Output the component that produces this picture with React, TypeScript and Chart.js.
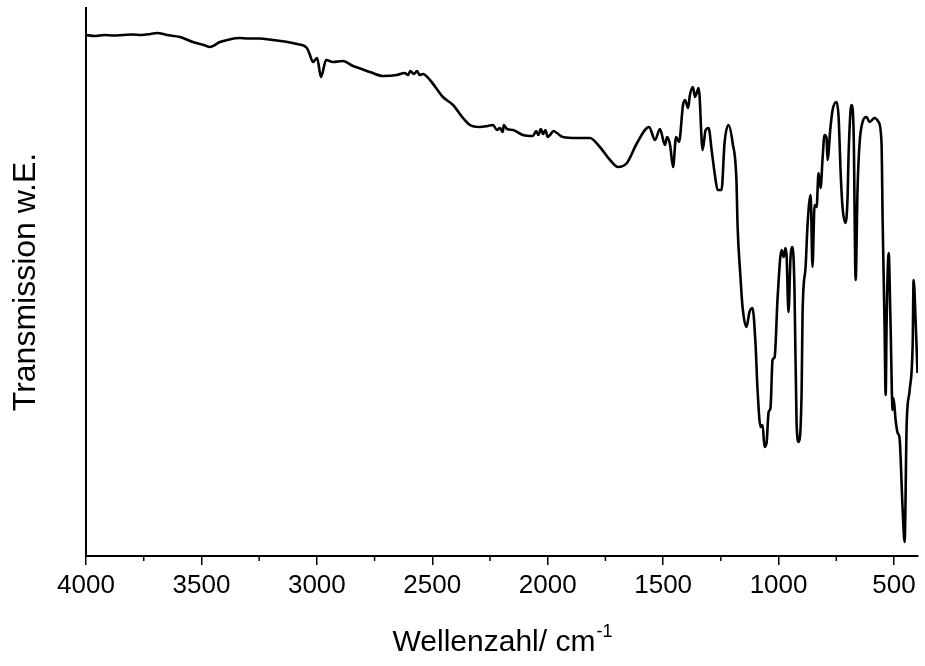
import { useEffect, useRef } from 'react';
import { Chart, registerables } from 'chart.js';

Chart.register(...registerables);

// Wavenumbers (cm^-1), descending
const wavenumbers = [
  4000, 3960, 3920, 3880, 3840, 3800, 3760, 3720, 3692, 3650, 3593, 3537, 3490, 3463, 3450, 3420, 3380, 3333, 3300, 3250,
  3190, 3140, 3086, 3043, 3030, 3017, 2999, 2982, 2960, 2930, 2887, 2843, 2800, 2770, 2713, 2653, 2620, 2605, 2595, 2580,
  2566, 2555, 2540, 2510, 2454, 2410, 2367, 2337, 2293, 2260, 2237, 2220, 2207, 2195, 2190, 2176, 2150, 2107, 2064, 2050,
  2040, 2030, 2020, 2010, 2000, 1990, 1975, 1960, 1934, 1873, 1817, 1774, 1730, 1696, 1657, 1613, 1561, 1535, 1514, 1492,
  1483, 1470, 1457, 1444, 1431, 1414, 1405, 1392, 1384, 1371, 1362, 1346, 1329, 1316, 1303, 1290, 1277, 1264, 1247, 1234,
  1217, 1199, 1182, 1178, 1165, 1156, 1139, 1126, 1113, 1100, 1091, 1078, 1069, 1061, 1052, 1043, 1035, 1026, 1017, 1004,
  987, 978, 970, 965, 957, 948, 939, 931, 922, 913, 900, 896, 883, 874, 861, 853, 844, 835, 827, 818,
  809, 801, 792, 788, 775, 766, 749, 740, 731, 723, 710, 701, 697, 688, 684, 675, 666, 658, 649, 636,
  619, 606, 584, 567, 554, 549, 541, 536, 532, 523, 515, 506, 502, 493, 484, 476, 463, 454, 445, 432,
  419, 415, 406, 398,
];

// Transmission (arbitrary units)
const transmission = [
  521, 520, 521, 520.5, 521, 521.5, 521, 522, 523, 521, 519, 514, 511, 509, 510, 514, 516.5, 518, 517.5, 517.5,
  516, 514.5, 512, 508, 501, 494, 498, 479, 496, 494, 495, 490, 486.5, 484, 480, 481, 483, 481, 485, 482,
  485, 481, 482, 476, 459, 451, 438, 431, 429, 430, 431, 426, 428, 424, 431, 427, 426, 421, 420, 425,
  421, 427, 422, 426, 419, 421, 425, 423, 419, 418, 418, 409, 396, 389, 393, 413, 429, 416, 427, 411,
  419, 411, 389, 419, 414, 451, 456, 448, 461, 469, 459, 468, 406, 426, 428, 406, 383, 366, 366, 413,
  431, 413, 373, 333, 279, 249, 229, 244, 248, 213, 166, 129, 131, 109, 113, 144, 148, 196, 199, 259,
  306, 299, 308, 299, 244, 299, 309, 266, 133, 114, 166, 243, 289, 333, 361, 289, 351, 349, 383, 368,
  399, 421, 418, 396, 429, 446, 454, 439, 383, 349, 333, 359, 399, 446, 451, 426, 276, 366, 413, 434,
  439, 434, 438, 434, 413, 333, 233, 161, 233, 303, 233, 146, 158, 136, 123, 118, 49, 14, 133, 166,
  213, 276, 233, 183,
];

const majorTicks = [4000, 3500, 3000, 2500, 2000, 1500, 1000, 500];
const minorTicks = [3750, 3250, 2750, 2250, 1750, 1250, 750];

const xTitle = 'Wellenzahl/ cm';
const xTitleSup = '-1';
const yTitle = 'Transmission w.E.';

const FONT = '"Liberation Sans", Arial, Helvetica, sans-serif';

const extrasPlugin = {
  id: 'extras',
  afterDraw(chart: any) {
    const ctx = chart.ctx;
    const xs = chart.scales.x;
    const bottom = chart.chartArea.bottom;
    ctx.save();
    ctx.strokeStyle = '#000';
    ctx.lineWidth = 1.5;
    minorTicks.forEach((v) => {
      const px = xs.getPixelForValue(v);
      ctx.beginPath();
      ctx.moveTo(px, bottom);
      ctx.lineTo(px, bottom + 5);
      ctx.stroke();
    });
    // x-axis title with superscript
    ctx.fillStyle = '#000';
    ctx.textBaseline = 'alphabetic';
    ctx.textAlign = 'left';
    ctx.font = `30px ${FONT}`;
    const w1 = ctx.measureText(xTitle).width;
    ctx.font = `18px ${FONT}`;
    const w2 = ctx.measureText(xTitleSup).width;
    const cx = (chart.chartArea.left + chart.chartArea.right) / 2;
    const startX = cx - (w1 + w2) / 2;
    const baseY = 651;
    ctx.font = `30px ${FONT}`;
    ctx.fillText(xTitle, startX, baseY);
    ctx.font = `18px ${FONT}`;
    ctx.fillText(xTitleSup, startX + w1 + 1, baseY - 14);
    ctx.restore();
  },
};

export default function App() {
  const ref = useRef<HTMLCanvasElement>(null);
  useEffect(() => {
    document.body.style.margin = '0';
    const data = wavenumbers.map((x, i) => ({ x, y: transmission[i] }));
    const chart = new Chart(ref.current as HTMLCanvasElement, {
      type: 'line',
      data: {
        datasets: [
          {
            data,
            borderColor: '#000',
            borderWidth: 2.6,
            pointRadius: 0,
            cubicInterpolationMode: 'monotone',
            fill: false,
          },
        ],
      },
      options: {
        responsive: false,
        animation: false,
        layout: { padding: { left: 0, right: 7, top: 8, bottom: 0 } },
        plugins: { legend: { display: false }, tooltip: { enabled: false } },
        scales: {
          x: {
            type: 'linear',
            reverse: true,
            min: 396,
            max: 4000,
            afterBuildTicks: (s: any) => {
              s.ticks = majorTicks.map((v) => ({ value: v }));
            },
            ticks: {
              font: { family: FONT, size: 26 },
              color: '#000',
              maxRotation: 0,
              autoSkip: false,
              padding: 5,
              callback: (v: any) => String(v),
            },
            grid: {
              display: true,
              drawOnChartArea: false,
              drawTicks: true,
              tickLength: 9,
              color: '#000',
              lineWidth: 1.5,
            },
            border: { display: true, color: '#000', width: 2 },
            afterFit: (s: any) => {
              s.height = 110;
            },
          },
          y: {
            min: 0,
            max: 548,
            ticks: { display: false },
            grid: { display: false, drawTicks: false },
            border: { display: true, color: '#000', width: 2 },
            title: {
              display: true,
              text: yTitle,
              color: '#000',
              font: { family: FONT, size: 32 },
              padding: { top: 7, bottom: 0 },
            },
            afterFit: (s: any) => {
              s.width = 86;
            },
          },
        },
      },
      plugins: [extrasPlugin],
    });
    return () => chart.destroy();
  }, []);
  return (
    <div style={{ position: 'absolute', left: 0, top: 0, width: 925, height: 666, background: '#fff' }}>
      <canvas ref={ref} width={925} height={666} />
    </div>
  );
}
